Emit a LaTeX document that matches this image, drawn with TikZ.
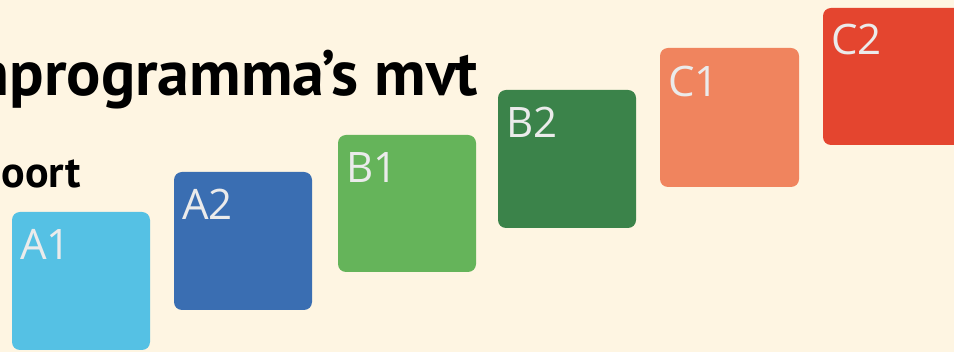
\documentclass[tikz,border=0pt]{standalone}
\usepackage{fontspec}
\setmainfont{PT Sans}
\newfontfamily\labfont{Open Sans}
\definecolor{bg}{HTML}{FEF5E2}
\definecolor{ca1}{HTML}{55C1E4}
\definecolor{ca2}{HTML}{3A6EB2}
\definecolor{cb1}{HTML}{65B45A}
\definecolor{cb2}{HTML}{3B834A}
\definecolor{cc1}{HTML}{F0845E}
\definecolor{cc2}{HTML}{E4452F}
\tikzset{
  tile/.style={rounded corners=8pt, draw=none},
  tilelabel/.style={anchor=base west, inner sep=0pt, text=white!92!black,
    font=\labfont\fontsize{42}{42}\selectfont},
  title/.style={anchor=base east, inner sep=0pt, font=\bfseries\fontsize{64}{64}\selectfont},
  subtitle/.style={anchor=base east, inner sep=0pt, font=\bfseries\fontsize{44}{44}\selectfont}
}
\begin{document}
\begin{tikzpicture}[x=1pt,y=-1pt]
\useasboundingbox (0,0) rectangle (954,352);
\clip (0,0) rectangle (954,352);
\fill[bg] (0,0) rectangle (954,352);
\node[title] (t1) at (478,96) {nprogramma’s mvt};
\node[subtitle] (t2) at (81,188) {oort};
% tiles
\fill[ca1,tile] (12,212) rectangle (150,350);
\fill[ca2,tile] (174,172) rectangle (312,310);
\fill[cb1,tile] (338,135) rectangle (476,272);
\fill[cb2,tile] (498,90) rectangle (636,228);
\fill[cc1,tile] (660,48) rectangle (799,187);
\fill[cc2,tile] (823,8) rectangle (962,145);
\node[tilelabel] (la1) at (20,260) {A1};
\node[tilelabel] (la2) at (182,220) {A2};
\node[tilelabel] (lb1) at (346,183) {B1};
\node[tilelabel] (lb2) at (506,138) {B2};
\node[tilelabel] (lc1) at (668,97) {C1};
\node[tilelabel] (lc2) at (831,55) {C2};
\end{tikzpicture}
\end{document}
